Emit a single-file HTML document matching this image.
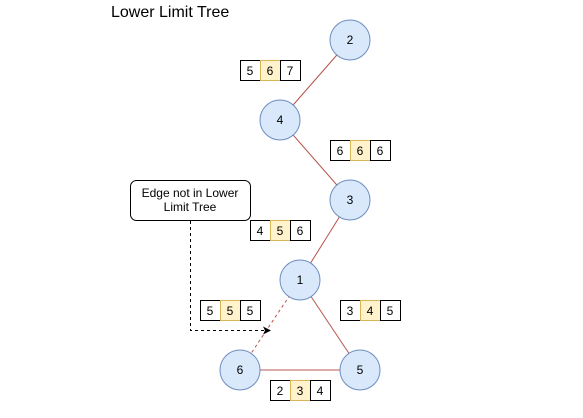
<!DOCTYPE html>
<html><head><style>body{margin:0;background:#fff}</style></head><body>
<svg width="583" height="413" xmlns="http://www.w3.org/2000/svg" font-family="Liberation Sans, sans-serif">
<rect width="583" height="413" fill="#fff"/>
<text x="111" y="17" font-size="16">Lower Limit Tree</text>
<g stroke="#b85450" stroke-width="1" fill="none">
<line x1="350" y1="40" x2="280" y2="120"/>
<line x1="280" y1="120" x2="350" y2="200"/>
<line x1="350" y1="200" x2="300" y2="280"/>
<line x1="300" y1="280" x2="360" y2="370"/>
<line x1="240" y1="370" x2="360" y2="370"/>
<line x1="300" y1="280" x2="240" y2="370" stroke-dasharray="3,3"/>
</g>
<g fill="#dae8fc" stroke="#6c8ebf">
<circle cx="350" cy="40" r="20"/><circle cx="280" cy="120" r="20"/><circle cx="350" cy="200" r="20"/>
<circle cx="300" cy="280" r="20"/><circle cx="240" cy="370" r="20"/><circle cx="360" cy="370" r="20"/>
</g>
<g font-size="12" text-anchor="middle">
<text x="350" y="44">2</text><text x="280" y="124">4</text><text x="350" y="204">3</text>
<text x="300" y="284">1</text><text x="240" y="374">6</text><text x="360" y="374">5</text>
</g>
<rect x="130.5" y="180.5" width="120" height="40" rx="6" fill="#fff" stroke="#000"/>
<text x="190" y="197" font-size="12" text-anchor="middle">Edge not in Lower</text>
<text x="190" y="211" font-size="12" text-anchor="middle">Limit Tree</text>
<path d="M190.5 221 V330.5 H264" fill="none" stroke="#000" stroke-dasharray="3,3"/>
<path d="M271 330.5 L263 326.5 L265 330.5 L263 334.5 Z" fill="#000"/>
<g font-size="12" text-anchor="middle">
<!-- triplets -->
<g transform="translate(240,60)"><rect x="0.5" y="0.5" width="20" height="20" fill="#fff" stroke="#000"/><rect x="20.5" y="0.5" width="20" height="20" fill="#fff2cc" stroke="#d6b656"/><rect x="40.5" y="0.5" width="20" height="20" fill="#fff" stroke="#000"/><text x="10" y="15">5</text><text x="30" y="15">6</text><text x="50" y="15">7</text></g>
<g transform="translate(330,140)"><rect x="0.5" y="0.5" width="20" height="20" fill="#fff" stroke="#000"/><rect x="20.5" y="0.5" width="20" height="20" fill="#fff2cc" stroke="#d6b656"/><rect x="40.5" y="0.5" width="20" height="20" fill="#fff" stroke="#000"/><text x="10" y="15">6</text><text x="30" y="15">6</text><text x="50" y="15">6</text></g>
<g transform="translate(250,220)"><rect x="0.5" y="0.5" width="20" height="20" fill="#fff" stroke="#000"/><rect x="20.5" y="0.5" width="20" height="20" fill="#fff2cc" stroke="#d6b656"/><rect x="40.5" y="0.5" width="20" height="20" fill="#fff" stroke="#000"/><text x="10" y="15">4</text><text x="30" y="15">5</text><text x="50" y="15">6</text></g>
<g transform="translate(200,300)"><rect x="0.5" y="0.5" width="20" height="20" fill="#fff" stroke="#000"/><rect x="20.5" y="0.5" width="20" height="20" fill="#fff2cc" stroke="#d6b656"/><rect x="40.5" y="0.5" width="20" height="20" fill="#fff" stroke="#000"/><text x="10" y="15">5</text><text x="30" y="15">5</text><text x="50" y="15">5</text></g>
<g transform="translate(340,300)"><rect x="0.5" y="0.5" width="20" height="20" fill="#fff" stroke="#000"/><rect x="20.5" y="0.5" width="20" height="20" fill="#fff2cc" stroke="#d6b656"/><rect x="40.5" y="0.5" width="20" height="20" fill="#fff" stroke="#000"/><text x="10" y="15">3</text><text x="30" y="15">4</text><text x="50" y="15">5</text></g>
<g transform="translate(270,380)"><rect x="0.5" y="0.5" width="20" height="20" fill="#fff" stroke="#000"/><rect x="20.5" y="0.5" width="20" height="20" fill="#fff2cc" stroke="#d6b656"/><rect x="40.5" y="0.5" width="20" height="20" fill="#fff" stroke="#000"/><text x="10" y="15">2</text><text x="30" y="15">3</text><text x="50" y="15">4</text></g>
</g>
</svg>
</body></html>
